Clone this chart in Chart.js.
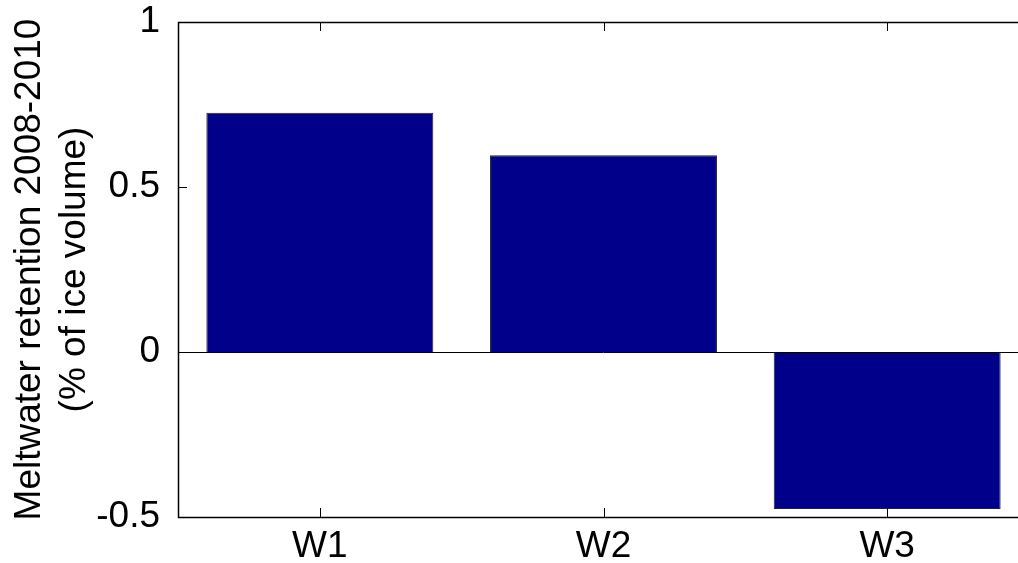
<!DOCTYPE html>
<html>
<head>
<meta charset="utf-8">
<script src="https://cdn.jsdelivr.net/npm/chart.js@4/dist/chart.umd.min.js"></script>
<style>
  html, body { margin: 0; padding: 0; background: #fff; overflow: hidden; }
  #wrap { width: 1030px; height: 563px; }
</style>
</head>
<body>
<div id="wrap"><canvas id="retention"></canvas></div>
<script>
var categories = ['W1', 'W2', 'W3'];
var retention = [0.725, 0.596, -0.476];
var yTicks = [-0.5, 0, 0.5, 1];
var yTitle = ['Meltwater retention 2008-2010', '(% of ice volume)'];

// MATLAB style box: frame, inward ticks on all four sides, zero baseline
var matlabBox = {
    id: 'matlabBox',
    afterDatasetsDraw: function(chart) {
        var c = chart.ctx, a = chart.chartArea;
        var x = chart.scales.x, y = chart.scales.y;
        var len = 9;
        c.save();
        c.strokeStyle = '#000';
        c.lineWidth = 1;
        c.beginPath();
        var y0 = Math.round(y.getPixelForValue(0)) + 0.5;
        c.moveTo(a.left, y0); c.lineTo(a.right, y0);
        x.ticks.forEach(function(t, i) {
            var px = Math.round(x.getPixelForTick(i)) + 0.5;
            c.moveTo(px, a.bottom); c.lineTo(px, a.bottom - len);
            c.moveTo(px, a.top); c.lineTo(px, a.top + len);
        });
        y.ticks.forEach(function(t, i) {
            var py = Math.round(y.getPixelForTick(i)) + 0.5;
            c.moveTo(a.left, py); c.lineTo(a.left + len, py);
            c.moveTo(a.right, py); c.lineTo(a.right - len, py);
        });
        c.stroke();
        c.lineWidth = 1.5;
        c.strokeRect(Math.round(a.left) + 0.5, Math.round(a.top) + 0.5,
                     Math.round(a.right - a.left), Math.round(a.bottom - a.top));
        c.restore();
    }
};

var ctx = document.getElementById('retention').getContext('2d');
var chart = new Chart(ctx, {
    type: 'bar',
    data: {
        labels: categories,
        datasets: [{
            data: retention,
            backgroundColor: '#00008b',
            borderColor: '#222',
            borderWidth: 1,
            barPercentage: 0.8,
            categoryPercentage: 1.0
        }]
    },
    options: {
        responsive: true,
        maintainAspectRatio: false,
        animation: false,
        layout: { padding: { top: 22, right: 1, left: 0, bottom: 0 } },
        plugins: { legend: { display: false }, tooltip: { enabled: false } },
        scales: {
            x: {
                grid: { display: false },
                border: { display: false },
                ticks: {
                    color: '#000',
                    padding: 0,
                    font: { family: 'Liberation Sans', size: 37 }
                },
                afterFit: function(s) {
                    s.height = 46;
                    s.paddingLeft = 0; s.paddingRight = 0;
                }
            },
            y: {
                min: -0.5,
                max: 1,
                afterBuildTicks: function(s) {
                    s.ticks = yTicks.map(function(v) { return { value: v }; });
                },
                grid: { display: false },
                border: { display: false },
                ticks: {
                    color: '#000',
                    padding: 10,
                    font: { family: 'Liberation Sans', size: 37 },
                    callback: function(v) { return String(v); }
                },
                title: {
                    display: true,
                    text: yTitle,
                    color: '#000',
                    padding: { top: 8, bottom: 0 },
                    font: { family: 'Liberation Sans', size: 37, lineHeight: 1.2 }
                },
                afterFit: function(s) {
                    s.width = 178;
                    s.paddingTop = 0; s.paddingBottom = 0;
                }
            }
        }
    },
    plugins: [matlabBox]
});
</script>
</body>
</html>
